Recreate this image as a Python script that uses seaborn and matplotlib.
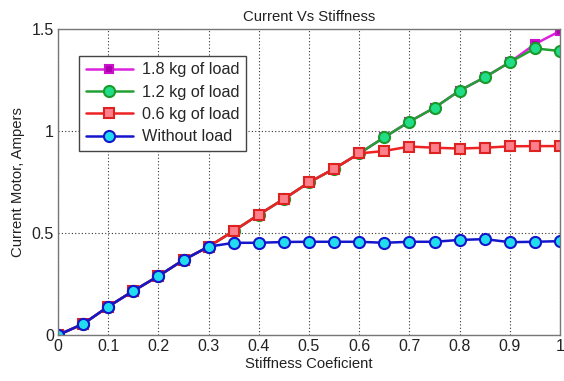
import numpy as np
import pandas as pd
import matplotlib
matplotlib.use("Agg")
import matplotlib.pyplot as plt
import seaborn as sns

# Stiffness coefficient samples
stiffness = [0.0, 0.05, 0.10, 0.15, 0.20, 0.25, 0.30, 0.35, 0.40, 0.45, 0.50,
             0.55, 0.60, 0.65, 0.70, 0.75, 0.80, 0.85, 0.90, 0.95, 1.00]

# Motor current (A) for each load case
current_no_load = [0.0, 0.054, 0.139, 0.216, 0.289, 0.368, 0.433, 0.452, 0.452, 0.456, 0.457,
                   0.457, 0.457, 0.452, 0.457, 0.457, 0.466, 0.470, 0.455, 0.457, 0.460]
current_06kg = [0.0, 0.054, 0.139, 0.216, 0.289, 0.368, 0.433, 0.510, 0.590, 0.667, 0.748,
                0.815, 0.890, 0.902, 0.924, 0.918, 0.914, 0.918, 0.925, 0.926, 0.926]
current_12kg = [0.0, 0.054, 0.139, 0.216, 0.289, 0.368, 0.433, 0.510, 0.590, 0.667, 0.748,
                0.815, 0.890, 0.969, 1.046, 1.114, 1.198, 1.263, 1.337, 1.405, 1.392]
current_18kg = [0.0, 0.054, 0.139, 0.216, 0.289, 0.368, 0.433, 0.510, 0.590, 0.667, 0.748,
                0.815, 0.890, 0.969, 1.046, 1.114, 1.198, 1.263, 1.337, 1.426, 1.490]

labels = ["1.8 kg of load", "1.2 kg of load", "0.6 kg of load", "Without load"]
series = [current_18kg, current_12kg, current_06kg, current_no_load]

x_ticks = [0, 0.1, 0.2, 0.3, 0.4, 0.5, 0.6, 0.7, 0.8, 0.9, 1]
x_tick_labels = ["0", "0.1", "0.2", "0.3", "0.4", "0.5", "0.6", "0.7", "0.8", "0.9", "1"]
y_ticks = [0, 0.5, 1, 1.5]
y_tick_labels = ["0", "0.5", "1", "1.5"]

styles = [
    dict(color="#dd22dd", marker="s", markersize=6, markerfacecolor="#aa00aa", markeredgecolor="#cc11cc"),
    dict(color="#22a033", marker="o", markersize=8, markerfacecolor="#22dd88", markeredgecolor="#1a9a2a"),
    dict(color="#ee2222", marker="s", markersize=7, markerfacecolor="#ff7f8a", markeredgecolor="#dd2222"),
    dict(color="#1515cc", marker="o", markersize=8, markerfacecolor="#22ddee", markeredgecolor="#1515cc"),
]

sns.set_style("white")
plt.rcParams["font.family"] = ["Liberation Sans", "DejaVu Sans"]

fig = plt.figure(figsize=(5.64, 3.81), dpi=100)
ax = fig.add_axes([58 / 564, 1 - 335 / 381, 502 / 564, 306 / 381])

for lab, vals, st in zip(labels, series, styles):
    df = pd.DataFrame({"x": stiffness, "y": vals})
    sns.lineplot(data=df, x="x", y="y", ax=ax, label=lab, linewidth=1.8,
                 markeredgewidth=1.5, **st)

ax.set_xlim(0, 1)
ax.set_ylim(0, 1.5)
ax.set_xticks(x_ticks)
ax.set_xticklabels(x_tick_labels)
ax.set_yticks(y_ticks)
ax.set_yticklabels(y_tick_labels)
ax.tick_params(direction="in", length=4, labelsize=11.5, colors="#222222", pad=3)
ax.grid(True, linestyle=(0, (1, 2)), color="#333333", linewidth=0.8)
for sp in ax.spines.values():
    sp.set_color("#777777")
    sp.set_linewidth(1.0)

ax.set_title("Current Vs Stiffness", fontsize=10.7, color="#222222", pad=6)
ax.set_xlabel("Stiffness Coeficient", fontsize=10.7, color="#222222", labelpad=2)
ax.set_ylabel("Current Motor, Ampers", fontsize=10.7, color="#222222", labelpad=5)

leg = ax.legend(loc="upper left", bbox_to_anchor=(0.042, 0.912), fontsize=11.7,
                frameon=True, fancybox=False, framealpha=1, edgecolor="#444444",
                handlelength=2.9, borderpad=0.4, labelspacing=0.45, handletextpad=0.55,
                borderaxespad=0)
leg.get_frame().set_linewidth(1.0)

fig.savefig("out.png", dpi=100)
